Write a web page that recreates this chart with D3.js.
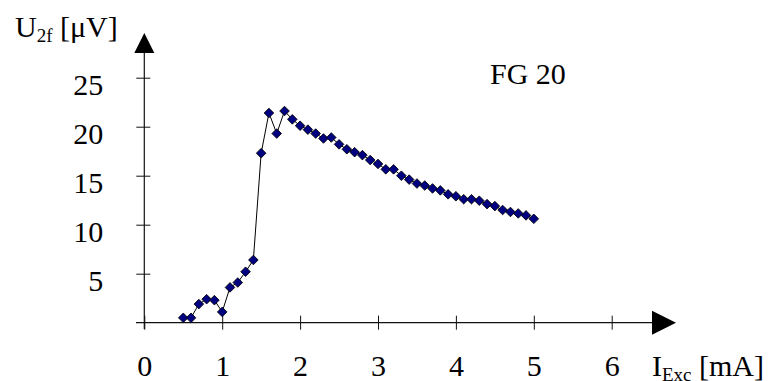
<!DOCTYPE html>
<html>
<head>
<meta charset="utf-8">
<script src="https://cdn.jsdelivr.net/npm/d3@7/dist/d3.min.js"></script>
<style>
  html, body { margin: 0; padding: 0; background: #fff; }
  svg { display: block; }
  svg text { font-family: "Liberation Serif", "Times New Roman", Times, "DejaVu Serif", serif !important; fill: #000; }
</style>
</head>
<body>
<svg id="chart" width="768" height="381"></svg>
<script>
// Excitation current (mA)
const excCurrent = [0.5, 0.6, 0.7, 0.8, 0.9, 1.0, 1.1, 1.2, 1.3, 1.4,
                    1.5, 1.6, 1.7, 1.8, 1.9, 2.0, 2.1, 2.2, 2.3, 2.4,
                    2.5, 2.6, 2.7, 2.8, 2.9, 3.0, 3.1, 3.2, 3.3, 3.4,
                    3.5, 3.6, 3.7, 3.8, 3.9, 4.0, 4.1, 4.2, 4.3, 4.4,
                    4.5, 4.6, 4.7, 4.8, 4.9, 5.0];
// Second-harmonic voltage (µV)
const u2f = [0.5, 0.5, 1.9, 2.4, 2.3, 1.1, 3.6, 4.1, 5.2, 6.4,
             17.3, 21.4, 19.3, 21.6, 20.75, 20.1, 19.7, 19.3, 18.8, 18.9,
             18.2, 17.7, 17.4, 17.1, 16.6, 16.2, 15.65, 15.65, 15.0, 14.6,
             14.2, 14.0, 13.7, 13.5, 13.1, 12.9, 12.6, 12.6, 12.45, 12.1,
             11.9, 11.5, 11.3, 11.15, 10.95, 10.6];
const xTicks = [0, 1, 2, 3, 4, 5, 6];
const yTicks = [5, 10, 15, 20, 25];
const seriesName = "FG 20";

const svg = d3.select("#chart");
const x = d3.scaleLinear().domain([0, 6]).range([144.3, 611.7]);
const y = d3.scaleLinear().domain([0, 25]).range([322.7, 77.7]);
const data = excCurrent.map((v, i) => ({ x: v, y: u2f[i] }));

const axisColor = "#111";
const fontSize = 30;
const subSize = 19;
const serif = "'Liberation Serif', 'Times New Roman', Times, 'DejaVu Serif', serif";

// x axis line with arrow head
svg.append("line")
  .attr("x1", 136).attr("x2", 653)
  .attr("y1", y(0)).attr("y2", y(0))
  .attr("stroke", axisColor).attr("stroke-width", 1.2);
svg.append("path")
  .attr("d", `M652,${y(0) - 12}L676,${y(0)}L652,${y(0) + 12}Z`)
  .attr("fill", "#000");

// y axis line with arrow head
svg.append("line")
  .attr("x1", x(0)).attr("x2", x(0))
  .attr("y1", 329).attr("y2", 52)
  .attr("stroke", axisColor).attr("stroke-width", 1.2);
svg.append("path")
  .attr("d", `M${x(0) - 10},53L${x(0)},33L${x(0) + 10},53Z`)
  .attr("fill", "#000");

// x ticks and labels
const gx = svg.append("g")
  .attr("transform", `translate(0,${y(0)})`)
  .call(d3.axisBottom(x).tickValues(xTicks).tickSizeOuter(0).tickFormat(d3.format("d")));
gx.attr("font-family", serif).attr("font-size", fontSize);
gx.select(".domain").remove();
gx.selectAll(".tick line").attr("y1", -7).attr("y2", 7).attr("stroke", axisColor);
gx.selectAll(".tick text")
  .attr("y", 53).attr("dy", 0)
  .attr("fill", "#000");

// y ticks and labels
const gy = svg.append("g")
  .attr("transform", `translate(${x(0)},0)`)
  .call(d3.axisLeft(y).tickValues(yTicks).tickSizeOuter(0).tickFormat(d3.format("d")));
gy.attr("font-family", serif).attr("font-size", fontSize);
gy.select(".domain").remove();
gy.selectAll(".tick line").attr("x1", -8).attr("x2", 6).attr("stroke", axisColor);
gy.selectAll(".tick text")
  .attr("x", -41).attr("dy", 17)
  .attr("fill", "#000");

// connecting line
svg.append("path")
  .datum(data)
  .attr("fill", "none")
  .attr("stroke", "#000")
  .attr("stroke-width", 1)
  .attr("d", d3.line().x(d => x(d.x)).y(d => y(d.y)));

// diamond markers
const diamond = d3.symbol().type(d3.symbolSquare).size(46);
svg.append("g").selectAll("path")
  .data(data)
  .join("path")
  .attr("d", diamond)
  .attr("transform", d => `translate(${x(d.x)},${y(d.y)}) rotate(45)`)
  .attr("fill", "#000080")
  .attr("stroke", "#000")
  .attr("stroke-width", 0.8);

// series label
svg.append("text")
  .attr("x", 490).attr("y", 84)
  .attr("font-family", serif)
  .attr("font-size", fontSize)
  .text(seriesName);

// y axis title: U2f [µV]
const yt = svg.append("text")
  .attr("x", 15).attr("y", 37)
  .attr("font-family", serif)
  .attr("font-size", fontSize);
yt.append("tspan").text("U");
yt.append("tspan").attr("dy", 5).attr("font-size", subSize).text("2f");
yt.append("tspan").attr("dy", -5).text(" [μV]");

// x axis title: I_Exc [mA]
const xt = svg.append("text")
  .attr("x", 652).attr("y", 376)
  .attr("font-family", serif)
  .attr("font-size", fontSize);
xt.append("tspan").text("I");
xt.append("tspan").attr("dy", 5).attr("font-size", subSize).text("Exc");
xt.append("tspan").attr("dy", -5).text(" [mA]");
</script>
</body>
</html>
